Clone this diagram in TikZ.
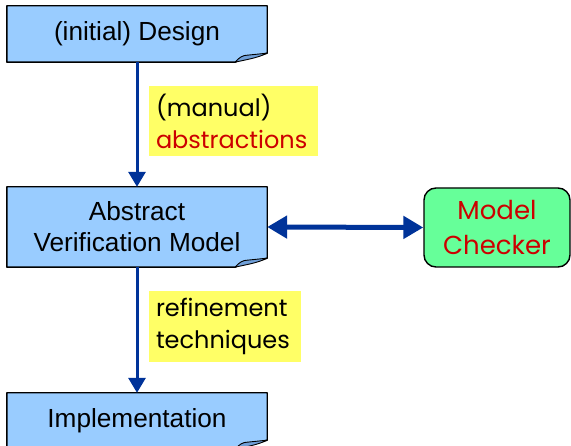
\documentclass[tikz,border=0pt]{standalone}
\usepackage{fontspec}
\setmainfont{Liberation Sans}
\newfontfamily\notefont{Poppins}
\usetikzlibrary{arrows.meta}

\definecolor{boxblue}{HTML}{99CCFF}
\definecolor{foldblue}{HTML}{6F9FD8}
\definecolor{arrowblue}{HTML}{003399}
\definecolor{notered}{HTML}{CC0000}
\definecolor{noteyellow}{HTML}{FFFF66}
\definecolor{checkgreen}{HTML}{66FF99}

\tikzset{
  stagebox/.style={inner sep=0pt, align=center,
    font=\fontsize{26.2}{31}\selectfont},
  boxline/.style={draw=black, line width=1.4pt, fill=boxblue, line join=round},
  foldline/.style={draw=black, line width=0.9pt, fill=foldblue, line join=round},
  notebox/.style={fill=noteyellow, inner sep=0pt, align=left,
    font=\notefont\fontsize{24}{32}\selectfont},
  checkerbox/.style={draw=black, line width=1.4pt, fill=checkgreen,
    rounded corners=12pt, minimum width=146pt, minimum height=79pt,
    align=center, text=notered, font=\notefont\fontsize{26}{35}\selectfont},
  vline/.style={draw=arrowblue, line width=3pt,
    -{Triangle[length=15pt, width=17pt]}},
  hline/.style={draw=arrowblue, line width=5pt,
    {Triangle[length=20pt, width=22pt]}-{Triangle[length=20pt, width=22pt]}},
}

% outline of a stage box with a curled bottom-right corner
\newcommand\curledbox[1]{%
  \path[boxline] (#1.north west) -- (#1.north east)
    -- ([yshift=9pt]#1.south east)
    .. controls ([xshift=-14pt,yshift=6pt]#1.south east)
       and ([xshift=-26pt,yshift=4pt]#1.south east)
    .. ([xshift=-32pt]#1.south east)
    -- (#1.south west) -- cycle;
  \path[foldline] ([xshift=-32pt]#1.south east)
    .. controls ([xshift=-28pt,yshift=5pt]#1.south east)
       and ([xshift=-24pt,yshift=7pt]#1.south east)
    .. ([xshift=-20pt,yshift=7pt]#1.south east)
    -- ([yshift=9pt]#1.south east)
    .. controls ([xshift=-10pt,yshift=4pt]#1.south east)
       and ([xshift=-24pt,yshift=2pt]#1.south east)
    .. cycle;
}

\begin{document}
\begin{tikzpicture}[x=1pt, y=-1pt]
  \useasboundingbox (0,0) rectangle (571,446);

  % stage boxes
  \node[stagebox, minimum width=260pt, minimum height=56pt] (design) at (137,34) {};
  \node[stagebox, minimum width=260pt, minimum height=80pt] (avm) at (137,227) {};
  \node[stagebox, minimum width=260pt, minimum height=56pt] (impl) at (137,421) {};
  \curledbox{design}
  \curledbox{avm}
  \curledbox{impl}
  \node[stagebox] (designtext) at (design) {(initial) Design};
  \node[stagebox] (avmtext) at (avm) {Abstract\\Verification Model};
  \node[stagebox] (impltext) at (impl) {Implementation};

  % model checker
  \node[checkerbox] (checker) at (497,227.5) {Model\\Checker};

  % connectors
  \draw[vline] (design.south) -- (avm.north);
  \draw[vline] (avm.south) -- (impl.north);
  \draw[hline] (avm.east) -- (checker.west);

  % notes beside the arrows
  \node[notebox, minimum width=169pt, minimum height=70pt, text width=155pt]
    (abstr) at (233.5,121) {(manual)\\\textcolor{notered}{abstractions}};
  \node[notebox, minimum width=152pt, minimum height=71pt, text width=138pt]
    (refine) at (225,326.5) {refinement\\techniques};
\end{tikzpicture}
\end{document}
